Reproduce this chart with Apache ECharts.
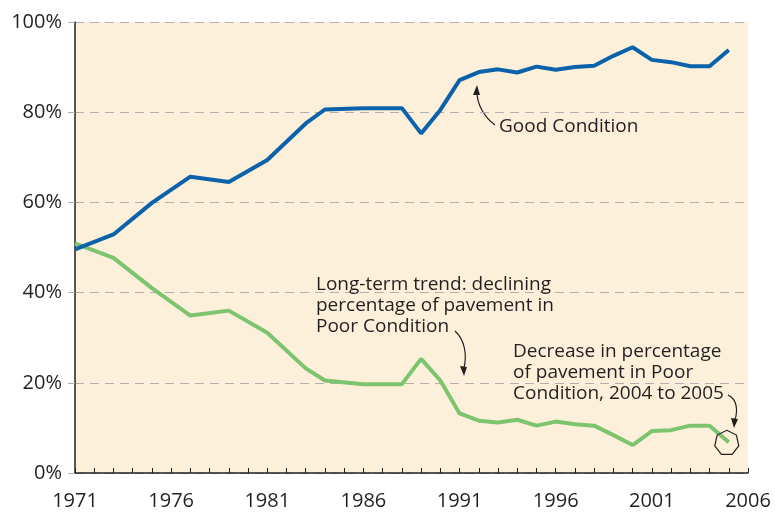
<!DOCTYPE html>
<html>
<head>
<meta charset="utf-8">
<script src="https://cdn.jsdelivr.net/npm/echarts@6/dist/echarts.min.js"></script>
<style>
  html, body { margin: 0; padding: 0; background: #fff; }
  #chart { width: 775px; height: 514px; }
</style>
</head>
<body>
<div id="chart"></div>
<script>
// years and condition shares (percent)
const years = [1971, 1973, 1975, 1977, 1979, 1981, 1983, 1984, 1986, 1988, 1989, 1990,
  1991, 1992, 1993, 1994, 1995, 1996, 1997, 1998, 1999, 2000, 2001, 2002, 2003, 2004, 2005]
const goodCondition = [49.6, 52.9, 59.9, 65.7, 64.5, 69.4, 77.5, 80.6, 80.9, 80.9, 75.3, 80.5,
  87.1, 88.9, 89.5, 88.8, 90.1, 89.4, 90.0, 90.3, 92.5, 94.4, 91.6, 91.1, 90.2, 90.2, 93.8]
const poorCondition = [50.9, 47.7, 41.0, 34.9, 36.0, 31.1, 23.2, 20.5, 19.7, 19.7, 25.3, 20.5,
  13.2, 11.6, 11.2, 11.8, 10.5, 11.4, 10.8, 10.5, 8.4, 6.2, 9.3, 9.5, 10.5, 10.5, 6.8]
const yTicks = [0, 20, 40, 60, 80, 100]

const FONT = 'Open Sans'
const TXT = '#231f20'

const chart = echarts.init(document.getElementById('chart'))

const pair = (arr) => years.map((y, i) => [y, arr[i]])

// rough heptagon for the circled 2005 point
const hepta = (() => {
  let d = 'path://'
  for (let k = 0; k < 7; k++) {
    const a = -Math.PI / 2 + k * 2 * Math.PI / 7
    d += (k === 0 ? 'M' : 'L') + (50 + 50 * Math.cos(a)).toFixed(1) + ' ' + (50 + 50 * Math.sin(a)).toFixed(1)
  }
  return d + 'Z'
})()

const annText = (x, y, lines) => ({
  type: 'text', left: x, top: y, z: 20,
  style: { text: lines.join('\n'), font: '19px "' + FONT + '"', fill: TXT, lineHeight: 21 }
})
const arrow = (x1, y1, cx1, cy1, cx2, cy2, x2, y2, heads) => ({
  type: 'group', z: 20,
  children: [
    { type: 'bezierCurve', shape: { x1, y1, cpx1: cx1, cpy1: cy1, cpx2: cx2, cpy2: cy2, x2, y2 },
      style: { stroke: '#231f20', lineWidth: 1.2, fill: null } },
    { type: 'polygon', shape: { points: heads }, style: { fill: '#231f20' } }
  ]
})

const option = {
  animation: false,
  backgroundColor: '#fff',
  grid: { left: 75, right: 27, top: 22, bottom: 41, show: true, backgroundColor: '#fdf0da', borderWidth: 0 },
  xAxis: {
    type: 'value', min: 1971, max: 2006, interval: 1,
    axisLine: { lineStyle: { color: '#231f20', width: 1.5 } },
    axisTick: { inside: true, length: 5, lineStyle: { color: '#231f20' } },
    splitLine: { show: false },
    axisLabel: {
      margin: 18, fontFamily: FONT, fontSize: 20, color: TXT,
      formatter: (v) => ((v - 1971) % 5 === 0 ? String(v) : '')
    }
  },
  yAxis: {
    type: 'value', min: yTicks[0], max: yTicks[yTicks.length - 1], interval: 20,
    axisLine: { show: true, lineStyle: { color: '#231f20', width: 1.5 } },
    axisTick: { show: true, length: 7, lineStyle: { color: '#b0b0b0' } },
    splitLine: { lineStyle: { color: '#b0b0b0', type: [9, 6], width: 1.2 } },
    axisLabel: { margin: 13, fontFamily: FONT, fontSize: 20, color: TXT, formatter: '{value}%' }
  },
  series: [
    {
      name: 'Poor Condition', type: 'line', data: pair(poorCondition),
      symbol: 'none', lineStyle: { color: '#7cc46e', width: 4 }, z: 3,
      markPoint: {
        silent: true,
        data: [{ coord: [2005, poorCondition[poorCondition.length - 1]] }],
        symbol: hepta, symbolSize: 24, symbolOffset: [-2, 0],
        itemStyle: { color: 'rgba(0,0,0,0)', borderColor: '#231f20', borderWidth: 1.2 },
        label: { show: false }
      }
    },
    {
      name: 'Good Condition', type: 'line', data: pair(goodCondition),
      symbol: 'none', lineStyle: { color: '#0a62ab', width: 4 }, z: 4
    }
  ],
  graphic: [
    annText(499, 116, ['Good Condition']),
    arrow(495, 125, 484, 117, 477, 104, 477, 92, [[473, 95], [477, 85], [480, 95]]),
    annText(316, 274, ['Long-term trend: declining', 'percentage of pavement in', 'Poor Condition']),
    arrow(455, 331, 465, 340, 467, 355, 464, 368, [[460, 366], [464, 376], [467, 367]]),
    annText(513, 341, ['Decrease in percentage', 'of pavement in Poor', 'Condition, 2004 to 2005']),
    arrow(728, 395, 737, 399, 738, 410, 735, 420, [[731, 418], [734, 428], [738, 419]])
  ]
}

chart.setOption(option)
</script>
</body>
</html>
